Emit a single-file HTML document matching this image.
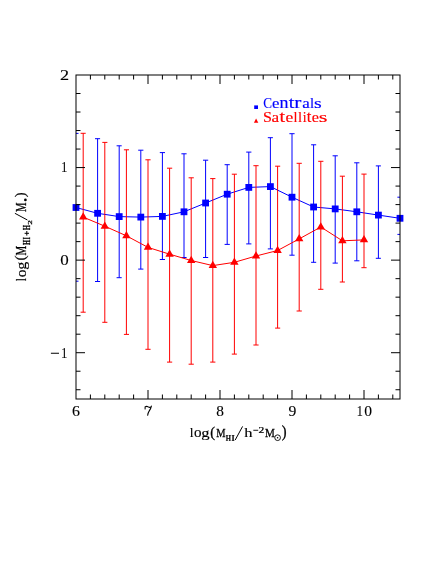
<!DOCTYPE html>
<html><head><meta charset="utf-8"><title>plot</title>
<style>
html,body{margin:0;padding:0;background:#fff;}
body{width:436px;height:564px;overflow:hidden;}
svg{display:block;will-change:transform;}
text{font-family:"Liberation Serif",serif;}
</style></head><body>
<svg width="436" height="564" viewBox="0 0 436 564">
<rect width="436" height="564" fill="#fff"/>
<defs><clipPath id="c"><rect x="76" y="75" width="324" height="324"/></clipPath></defs>
<g stroke="#0000ff" stroke-width="1" fill="none" clip-path="url(#c)"><path d="M73.5 133.4H78.5M73.5 281.2H78.5"/><path d="M97.6 138.7V281.5M95.0 138.7H100.1M95.0 281.5H100.1"/><path d="M119.2 145.8V277.7M116.6 145.8H121.7M116.6 277.7H121.7"/><path d="M140.8 150.2V269.1M138.2 150.2H143.4M138.2 269.1H143.4"/><path d="M162.4 152.6V259.5M159.8 152.6H165.0M159.8 259.5H165.0"/><path d="M184.0 153.8V257.5M181.4 153.8H186.6M181.4 257.5H186.6"/><path d="M205.6 160.2V257.5M203.0 160.2H208.2M203.0 257.5H208.2"/><path d="M227.2 164.7V244.4M224.6 164.7H229.8M224.6 244.4H229.8"/><path d="M248.8 152.1V243.9M246.2 152.1H251.4M246.2 243.9H251.4"/><path d="M270.4 137.7V248.9M267.8 137.7H272.9M267.8 248.9H272.9"/><path d="M292.0 133.7V255.2M289.4 133.7H294.6M289.4 255.2H294.6"/><path d="M313.6 144.8V262.3M311.1 144.8H316.2M311.1 262.3H316.2"/><path d="M335.2 155.8V263.1M332.6 155.8H337.8M332.6 263.1H337.8"/><path d="M356.8 162.8V260.8M354.2 162.8H359.4M354.2 260.8H359.4"/><path d="M378.4 165.9V258.3M375.8 165.9H380.9M375.8 258.3H380.9"/><path d="M397.4 197.2H402.6M397.4 234.4H402.6"/></g>
<polyline fill="none" stroke="#0000ff" stroke-width="1" points="76.0,207.5 97.6,213.3 119.2,216.6 140.8,217.1 162.4,216.4 184.0,211.8 205.6,203.0 227.2,194.2 248.8,187.4 270.4,186.6 292.0,197.2 313.6,207.0 335.2,208.9 356.8,211.8 378.4,215.1 400.0,218.3"/>
<g stroke="#ff0000" stroke-width="1" fill="none" clip-path="url(#c)"><path d="M83.2 133.3V312.2M80.6 133.3H85.7M80.6 312.2H85.7"/><path d="M104.8 142.4V322.3M102.3 142.4H107.4M102.3 322.3H107.4"/><path d="M126.4 149.8V334.4M123.9 149.8H129.0M123.9 334.4H129.0"/><path d="M148.0 159.8V349.3M145.4 159.8H150.6M145.4 349.3H150.6"/><path d="M169.6 168.2V362.1M167.0 168.2H172.2M167.0 362.1H172.2"/><path d="M191.2 177.8V364.2M188.6 177.8H193.8M188.6 364.2H193.8"/><path d="M212.8 178.6V362.1M210.2 178.6H215.4M210.2 362.1H215.4"/><path d="M234.4 174.2V354.1M231.8 174.2H236.9M231.8 354.1H236.9"/><path d="M256.0 165.7V345.0M253.4 165.7H258.6M253.4 345.0H258.6"/><path d="M277.6 166.2V328.1M275.1 166.2H280.2M275.1 328.1H280.2"/><path d="M299.2 163.3V311.0M296.6 163.3H301.8M296.6 311.0H301.8"/><path d="M320.8 161.3V289.3M318.2 161.3H323.4M318.2 289.3H323.4"/><path d="M342.4 176.2V282.0M339.8 176.2H344.9M339.8 282.0H344.9"/><path d="M364.0 174.1V267.7M361.4 174.1H366.6M361.4 267.7H366.6"/></g>
<polyline fill="none" stroke="#ff0000" stroke-width="1" points="83.2,217.1 104.8,226.2 126.4,235.8 148.0,247.4 169.6,254.2 191.2,260.5 212.8,265.6 234.4,262.3 256.0,256.0 277.6,250.5 299.2,238.9 320.8,227.0 342.4,240.8 364.0,239.9"/>
<g fill="#0000ff"><rect x="72.6" y="204.1" width="6.8" height="6.8"/><rect x="94.2" y="209.9" width="6.8" height="6.8"/><rect x="115.8" y="213.2" width="6.8" height="6.8"/><rect x="137.4" y="213.7" width="6.8" height="6.8"/><rect x="159.0" y="213.0" width="6.8" height="6.8"/><rect x="180.6" y="208.4" width="6.8" height="6.8"/><rect x="202.2" y="199.6" width="6.8" height="6.8"/><rect x="223.8" y="190.8" width="6.8" height="6.8"/><rect x="245.4" y="184.0" width="6.8" height="6.8"/><rect x="267.0" y="183.2" width="6.8" height="6.8"/><rect x="288.6" y="193.8" width="6.8" height="6.8"/><rect x="310.2" y="203.6" width="6.8" height="6.8"/><rect x="331.8" y="205.5" width="6.8" height="6.8"/><rect x="353.4" y="208.4" width="6.8" height="6.8"/><rect x="375.0" y="211.7" width="6.8" height="6.8"/><rect x="396.6" y="214.9" width="6.8" height="6.8"/></g>
<g fill="#ff0000"><path d="M83.2 212.30L87.4 219.55H79.0Z"/><path d="M104.8 221.40L109.0 228.65H100.6Z"/><path d="M126.4 231.00L130.6 238.25H122.2Z"/><path d="M148.0 242.60L152.2 249.85H143.8Z"/><path d="M169.6 249.40L173.8 256.65H165.4Z"/><path d="M191.2 255.70L195.4 262.95H187.0Z"/><path d="M212.8 260.80L217.0 268.05H208.6Z"/><path d="M234.4 257.50L238.6 264.75H230.2Z"/><path d="M256.0 251.20L260.2 258.45H251.8Z"/><path d="M277.6 245.70L281.8 252.95H273.4Z"/><path d="M299.2 234.10L303.4 241.35H295.0Z"/><path d="M320.8 222.20L325.0 229.45H316.6Z"/><path d="M342.4 236.00L346.6 243.25H338.2Z"/><path d="M364.0 235.10L368.2 242.35H359.8Z"/></g>
<g stroke="#000" stroke-width="1" fill="none"><rect x="76" y="75" width="324" height="324"/><path d="M90.4 399v-4.5M90.4 75v4.5M104.8 399v-4.5M104.8 75v4.5M119.2 399v-4.5M119.2 75v4.5M133.6 399v-4.5M133.6 75v4.5M148.0 399v-9.0M148.0 75v9.0M162.4 399v-4.5M162.4 75v4.5M176.8 399v-4.5M176.8 75v4.5M191.2 399v-4.5M191.2 75v4.5M205.6 399v-4.5M205.6 75v4.5M220.0 399v-9.0M220.0 75v9.0M234.4 399v-4.5M234.4 75v4.5M248.8 399v-4.5M248.8 75v4.5M263.2 399v-4.5M263.2 75v4.5M277.6 399v-4.5M277.6 75v4.5M292.0 399v-9.0M292.0 75v9.0M306.4 399v-4.5M306.4 75v4.5M320.8 399v-4.5M320.8 75v4.5M335.2 399v-4.5M335.2 75v4.5M349.6 399v-4.5M349.6 75v4.5M364.0 399v-9.0M364.0 75v9.0M378.4 399v-4.5M378.4 75v4.5M392.8 399v-4.5M392.8 75v4.5M76 389.74h4.5M400 389.74h-4.5M76 371.23h4.5M400 371.23h-4.5M76 352.71h9.0M400 352.71h-9.0M76 334.20h4.5M400 334.20h-4.5M76 315.69h4.5M400 315.69h-4.5M76 297.17h4.5M400 297.17h-4.5M76 278.66h4.5M400 278.66h-4.5M76 260.14h9.0M400 260.14h-9.0M76 241.63h4.5M400 241.63h-4.5M76 223.11h4.5M400 223.11h-4.5M76 204.60h4.5M400 204.60h-4.5M76 186.09h4.5M400 186.09h-4.5M76 167.57h9.0M400 167.57h-9.0M76 149.06h4.5M400 149.06h-4.5M76 130.54h4.5M400 130.54h-4.5M76 112.03h4.5M400 112.03h-4.5M76 93.51h4.5M400 93.51h-4.5"/></g>
<g fill="#000"><text transform="matrix(1.346 0 0 1.340 189.83 436.60)" font-size="10px" stroke="#000" stroke-width="0.10">l</text><text transform="matrix(1.510 0 0 1.372 193.92 436.67)" font-size="10px" stroke="#000" stroke-width="0.10">o</text><text transform="matrix(1.667 0 0 1.344 201.18 437.10)" font-size="10px" stroke="#000" stroke-width="0.10">g</text><text transform="matrix(1.441 0 0 1.555 210.27 436.99)" font-size="10px" stroke="#000" stroke-width="0.20">(</text><text transform="matrix(1.047 0 0 1.344 216.30 436.60)" font-size="10px" stroke="#000" stroke-width="0.20">M</text><text transform="matrix(0.672 0 0 0.779 225.79 440.80)" font-size="10px" font-weight="bold" stroke="#000" stroke-width="0.25">H</text><text transform="matrix(0.808 0 0 0.779 231.43 440.80)" font-size="10px" font-weight="bold" stroke="#000" stroke-width="0.25">I</text><text transform="matrix(1.656 0 0 1.340 244.14 436.60)" font-size="10px" stroke="#000" stroke-width="0.10">h</text><text transform="matrix(1.147 0 0 0.785 258.50 432.80)" font-size="10px" stroke="#000" stroke-width="0.30">2</text><text transform="matrix(1.107 0 0 1.344 264.88 436.60)" font-size="10px" stroke="#000" stroke-width="0.20">M</text><text transform="matrix(1.441 0 0 1.566 281.74 436.87)" font-size="10px" stroke="#000" stroke-width="0.20">)</text><rect x="253.3" y="429.8" width="4.9" height="0.9"/><path d="M235.2 440L242.6 426.4" stroke="#000" stroke-width="1" fill="none"/><circle cx="277.6" cy="437.7" r="2.85" fill="none" stroke="#000" stroke-width="0.9"/><circle cx="277.6" cy="437.7" r="0.8"/></g>
<g fill="#000" transform="translate(0 300) rotate(-90)"><text transform="matrix(1.177 0 0 1.412 18.86 25.80)" font-size="10px" stroke="#000" stroke-width="0.10">l</text><text transform="matrix(1.534 0 0 1.497 22.72 25.85)" font-size="10px" stroke="#000" stroke-width="0.10">o</text><text transform="matrix(1.621 0 0 1.399 30.30 25.98)" font-size="10px" stroke="#000" stroke-width="0.10">g</text><text transform="matrix(1.518 0 0 1.533 39.43 25.24)" font-size="10px" stroke="#000" stroke-width="0.12">(</text><text transform="matrix(1.095 0 0 1.497 44.48 25.90)" font-size="10px" stroke="#000" stroke-width="0.20">M</text><text transform="matrix(0.645 0 0 1.023 54.99 30.00)" font-size="10px" font-weight="bold" stroke="#000" stroke-width="0.25">H</text><text transform="matrix(0.590 0 0 1.023 60.60 30.00)" font-size="10px" font-weight="bold" stroke="#000" stroke-width="0.25">I</text><text transform="matrix(0.618 0 0 1.023 70.09 30.00)" font-size="10px" font-weight="bold" stroke="#000" stroke-width="0.25">H</text><text transform="matrix(0.923 0 0 0.649 75.19 32.10)" font-size="10px" stroke="#000" stroke-width="0.40">2</text><text transform="matrix(1.071 0 0 1.497 87.99 25.90)" font-size="10px" stroke="#000" stroke-width="0.20">M</text><text transform="matrix(1.557 0 0 1.511 102.50 25.08)" font-size="10px" stroke="#000" stroke-width="0.12">)</text><path d="M64.4 26.8H69.0M66.7 24.6V29.0M80 27.4L86.7 14.9" stroke="#000" stroke-width="1" fill="none"/><circle cx="100.1" cy="25.4" r="1.35"/></g>
<g fill="#000"><text transform="matrix(1.592 0 0 1.473 72.02 415.66)" font-size="10px" stroke="#000" stroke-width="0.08">6</text><text transform="matrix(1.534 0 0 1.467 216.22 415.66)" font-size="10px" stroke="#000" stroke-width="0.08">8</text><text transform="matrix(1.570 0 0 1.473 288.39 415.66)" font-size="10px" stroke="#000" stroke-width="0.08">9</text><text transform="matrix(1.221 0 0 1.469 356.83 415.70)" font-size="10px" stroke="#000" stroke-width="0.08">1</text><text transform="matrix(1.557 0 0 1.467 364.21 415.66)" font-size="10px" stroke="#000" stroke-width="0.08">0</text><text transform="matrix(1.821 0 0 1.420 59.90 79.70)" font-size="10px" stroke="#000" stroke-width="0.08">2</text><text transform="matrix(1.193 0 0 1.394 61.15 172.10)" font-size="10px" stroke="#000" stroke-width="0.08">1</text><text transform="matrix(1.699 0 0 1.437 60.25 264.76)" font-size="10px" stroke="#000" stroke-width="0.08">0</text><text transform="matrix(1.193 0 0 1.409 61.15 357.50)" font-size="10px" stroke="#000" stroke-width="0.08">1</text><rect x="50.9" y="352.75" width="8.1" height="1"/><path d="M145.1 408.9V406.9Q146.6 405.9 148.2 406.9T151.2 406.7M151.4 406.1Q151 408.2 149.4 410.6T147.7 415.3" stroke="#000" stroke-width="1.05" fill="none" stroke-linecap="round"/></g>
<rect x="254.2" y="105.4" width="3.8" height="3.6" fill="#0000ff"/><path d="M256.1 118.5L258.3 122.7H253.9Z" fill="#ff0000"/>
<g fill="#0000ff"><text transform="matrix(1.314 0 0 1.496 263.36 107.85)" font-size="10px" stroke="#0000ff" stroke-width="0.10">C</text><text transform="matrix(1.675 0 0 1.549 272.05 107.75)" font-size="10px" stroke="#0000ff" stroke-width="0.10">e</text><text transform="matrix(1.797 0 0 1.581 279.59 107.90)" font-size="10px" stroke="#0000ff" stroke-width="0.10">n</text><text transform="matrix(1.983 0 0 1.580 288.71 107.75)" font-size="10px" stroke="#0000ff" stroke-width="0.10">t</text><text transform="matrix(2.137 0 0 1.581 294.37 107.90)" font-size="10px" stroke="#0000ff" stroke-width="0.10">r</text><text transform="matrix(1.696 0 0 1.555 302.30 107.75)" font-size="10px" stroke="#0000ff" stroke-width="0.10">a</text><text transform="matrix(1.472 0 0 1.412 310.01 107.75)" font-size="10px" stroke="#0000ff" stroke-width="0.10">l</text><text transform="matrix(1.987 0 0 1.549 313.98 107.75)" font-size="10px" stroke="#0000ff" stroke-width="0.10">s</text></g>
<g fill="#ff0000"><text transform="matrix(1.615 0 0 1.496 262.92 121.60)" font-size="10px" stroke="#ff0000" stroke-width="0.10">S</text><text transform="matrix(1.721 0 0 1.555 271.59 121.50)" font-size="10px" stroke="#ff0000" stroke-width="0.10">a</text><text transform="matrix(2.021 0 0 1.580 279.60 121.50)" font-size="10px" stroke="#ff0000" stroke-width="0.10">t</text><text transform="matrix(1.756 0 0 1.549 285.51 121.50)" font-size="10px" stroke="#ff0000" stroke-width="0.10">e</text><text transform="matrix(1.430 0 0 1.412 293.51 121.50)" font-size="10px" stroke="#ff0000" stroke-width="0.10">l</text><text transform="matrix(1.472 0 0 1.412 298.11 121.50)" font-size="10px" stroke="#ff0000" stroke-width="0.10">l</text><text transform="matrix(1.388 0 0 1.480 302.71 121.50)" font-size="10px" stroke="#ff0000" stroke-width="0.10">i</text><text transform="matrix(1.678 0 0 1.580 306.84 121.50)" font-size="10px" stroke="#ff0000" stroke-width="0.10">t</text><text transform="matrix(1.621 0 0 1.549 311.67 121.50)" font-size="10px" stroke="#ff0000" stroke-width="0.10">e</text><text transform="matrix(2.244 0 0 1.549 318.68 121.50)" font-size="10px" stroke="#ff0000" stroke-width="0.10">s</text></g>
</svg>
</body></html>
